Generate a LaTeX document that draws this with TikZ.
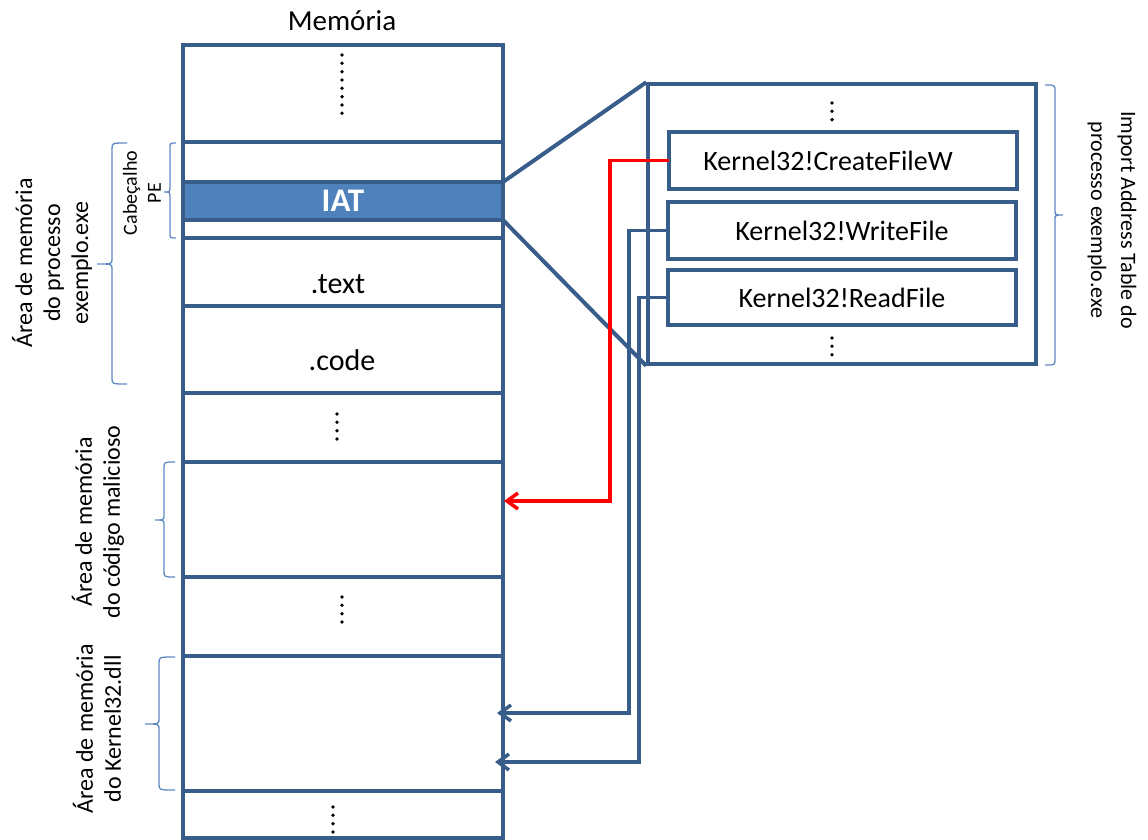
\documentclass[tikz,border=0pt]{standalone}
\usepackage{fontspec}
\setmainfont{Carlito}
\usetikzlibrary{arrows.meta}

\definecolor{frame}{RGB}{56,93,138}
\definecolor{iatfill}{RGB}{79,129,189}
\definecolor{bracecol}{RGB}{95,135,195}
\definecolor{hookred}{RGB}{255,0,0}

% left-opening curly brace: vertical x, top y, bottom y, tip x, tip y, end x
\newcommand\drawleftbrace[6]{%
  \draw[bracestyle] (#6,#2) .. controls (#1,#2) .. (#1,#2+6) -- (#1,#5-5)
    .. controls (#1,#5) .. (#4,#5) .. controls (#1,#5) .. (#1,#5+5)
    -- (#1,#3-6) .. controls (#1,#3) .. (#6,#3);}

\begin{document}
\begin{tikzpicture}[x=1pt,y=-1pt,
  cell/.style={draw=frame, line width=4.5pt, minimum width=320pt, inner sep=0pt, outer sep=0pt},
  entry/.style={draw=frame, line width=3.5pt, minimum width=348pt, minimum height=57pt,
    inner sep=0pt, outer sep=0pt, font=\fontsize{28}{32}\selectfont},
  seg/.style={font=\fontsize{30}{36}\selectfont, anchor=base, inner sep=0pt},
  sidenote/.style={font=\fontsize{24}{28}\selectfont, align=center, inner sep=0pt},
  bracestyle/.style={draw=bracecol, line width=1.3pt},
  link/.style={line width=3.5pt, -{Straight Barb[length=11pt,width=16pt]}},
  zoomline/.style={draw=frame, line width=4pt},
  dot/.style={fill=black}
]
\useasboundingbox (0,0) rectangle (1148,840);

% memory column
\node[cell, minimum height=97pt] (top)  at (343,93.5)  {};
\node[cell, minimum height=40pt] (pe)   at (343,162)   {};
\node[cell, minimum height=38pt, fill=iatfill, font=\fontsize{33}{36}\selectfont\bfseries, text=white] (iat) at (343,201) {IAT};
\node[cell, minimum height=18pt] (pe2)  at (343,229)   {};
\node[cell, minimum height=68pt] (text) at (343,272)   {};
\node[cell, minimum height=87pt] (code) at (343,349.5) {};
\node[cell, minimum height=69pt] (gap1) at (343,427.5) {};
\node[cell, minimum height=115pt] (mal) at (343,519.5) {};
\node[cell, minimum height=79pt] (gap2) at (343,616.5) {};
\node[cell, minimum height=135pt] (kern) at (343,723.5) {};
\node[cell, minimum height=47pt] (gap3) at (343,814.5) {};

\node[seg, font=\fontsize{29}{34}\selectfont] (memtitle) at (342,31) {Memória};
\node[seg] (textlbl) at (338,293) {.text};
\node[seg] (codelbl) at (342,370) {.code};

% vertical ellipses
\foreach \k in {0,...,7} \fill[dot] (342,{55+8.33*\k}) circle (1.9pt);
\foreach \k in {0,...,3} \fill[dot] (337,{414+8.33*\k}) circle (1.9pt);
\foreach \k in {0,...,3} \fill[dot] (342,{597+8.33*\k}) circle (1.9pt);
\foreach \k in {0,...,3} \fill[dot] (333,{807+8.33*\k}) circle (1.9pt);

% import address table
\node[draw=frame, line width=3.5pt, minimum width=388pt, minimum height=280pt, inner sep=0pt] (tbl) at (842,224) {};
\node[entry] (cw) at (843,160.5) {};
\node[font=\fontsize{28}{32}\selectfont, inner sep=0pt] (cwlbl) at (828,160.5) {Kernel32!CreateFileW};
\node[entry] (wf) at (842,230.5) {Kernel32!WriteFile};
\node[entry, minimum height=55pt] (rf) at (842,297.5) {Kernel32!ReadFile};
\foreach \k in {0,...,2} \fill[dot] (832,{103+8.33*\k}) circle (1.9pt);
\foreach \k in {0,...,2} \fill[dot] (832,{338+8.33*\k}) circle (1.9pt);

\draw[zoomline] (iat.north east) -- (tbl.north west);
\draw[zoomline] (iat.south east) -- (tbl.south west);

% redirected and original imports
\coordinate (r1) at (610,501);
\coordinate (r2) at (504,501);
\coordinate (w1) at (629,713);
\coordinate (w2) at (497,713);
\coordinate (d1) at (639,762);
\coordinate (d2) at (495,762);
\draw[link, draw=hookred] (cw.west) -| (r1) -- (r2);
\draw[link, draw=frame] (wf.west) -| (w1) -- (w2);
\draw[link, draw=frame] (rf.west) -| (d1) -- (d2);

% braces and their labels
\drawleftbrace{170}{143}{238}{164}{192}{176}
\drawleftbrace{112}{143}{384}{97}{264}{127}
\drawleftbrace{164}{462}{577}{155}{520}{175}
\drawleftbrace{159}{657}{790}{145}{724}{175}
\draw[bracestyle] (1045,85) .. controls (1055,85) .. (1055,91) -- (1055,210)
  .. controls (1055,215) .. (1063,215) .. controls (1055,215) .. (1055,220)
  -- (1055,359) .. controls (1055,365) .. (1045,365);

\node[sidenote, font=\fontsize{20}{24}\selectfont, rotate=90] (pelbl) at (142,193) {Cabeçalho\\PE};
\node[sidenote, rotate=90] (proclbl) at (52,263) {Área de memória\\do processo\\exemplo.exe};
\node[sidenote, rotate=90] (mallbl) at (98,522) {Área de memória\\do código malicioso};
\node[sidenote, rotate=90] (kernlbl) at (97,729) {Área de memória\\do Kernel32.dll};
\node[sidenote, font=\fontsize{22}{30}\selectfont, rotate=-90] (tbllbl) at (1112,220) {Import Address Table do\\processo exemplo.exe};
\end{tikzpicture}
\end{document}
